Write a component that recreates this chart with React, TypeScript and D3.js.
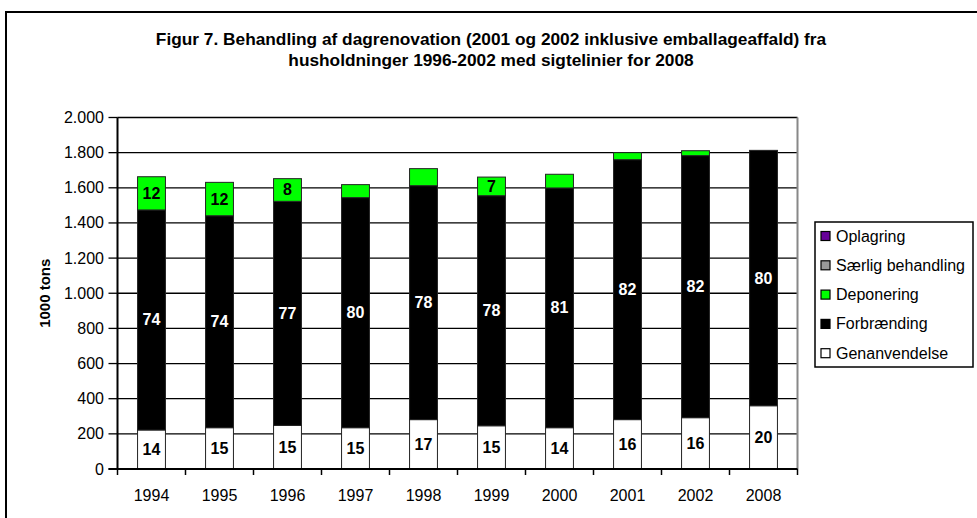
import React from "react";
import * as d3 from "d3";

// years on the x axis (2008 = target line)
const years = ["1994", "1995", "1996", "1997", "1998", "1999", "2000", "2001", "2002", "2008"];

// 1000 tons
const genanvendelse = [222, 235, 248, 235, 281, 246, 235, 281, 292, 360];
const forbraending = [1252, 1206, 1275, 1309, 1331, 1309, 1364, 1479, 1491, 1453];
const deponering = [189, 190, 129, 74, 97, 106, 78, 40, 28, 0];
const saerligBehandling = [0, 0, 0, 0, 0, 0, 0, 0, 0, 0];
const oplagring = [0, 0, 0, 0, 0, 0, 0, 0, 0, 0];

// percentage labels printed inside the segments
const pctGenanvendelse = [14, 15, 15, 15, 17, 15, 14, 16, 16, 20];
const pctForbraending = [74, 74, 77, 80, 78, 78, 81, 82, 82, 80];
const pctDeponering = [12, 12, 8, null, null, 7, null, null, null, null];

const legendNames = ["Oplagring", "Særlig behandling", "Deponering", "Forbrænding", "Genanvendelse"];
const legendColors = ["#660099", "#999999", "#00ff00", "#000000", "#ffffff"];

const titleLines = [
  "Figur 7. Behandling af dagrenovation (2001 og 2002 inklusive emballageaffald) fra",
  "husholdninger 1996-2002 med sigtelinier for 2008",
];
const yTicks = d3.range(0, 2001, 200);

const width = 977;
const height = 518;
const marginLeft = 117.5;
const plotRight = 797.5;
const plotTop = 117.5;
const plotBottom = 469;
const font = "'Liberation Sans', Arial, sans-serif";

const keys = ["gen", "forb", "dep", "saer", "opl"];
const keyColors = ["#ffffff", "#000000", "#00ff00", "#999999", "#660099"];

export default function App() {
  const rows = years.map((year, i) => ({
    year,
    gen: genanvendelse[i],
    forb: forbraending[i],
    dep: deponering[i],
    saer: saerligBehandling[i],
    opl: oplagring[i],
  }));

  const stacked = d3.stack().keys(keys)(rows as any);

  const x = d3
    .scaleBand()
    .domain(years)
    .range([marginLeft, plotRight])
    .paddingInner(0.59)
    .paddingOuter(0.295);

  const y = d3.scaleLinear().domain([0, 2000]).range([plotBottom, plotTop]);

  const fmt = d3.formatLocale({ decimal: ",", thousands: ".", grouping: [3], currency: ["", ""] }).format(",d");

  // tick marks sit between the categories
  const step = x.step();
  const boundaries = d3.range(years.length + 1).map((i) => marginLeft + i * step);

  const labelSets = [pctGenanvendelse, pctForbraending, pctDeponering];
  const labelColors = ["#000", "#fff", "#000"];

  return (
    <div style={{ position: "absolute", left: 0, top: 0 }}>
      <svg width={width} height={height} style={{ display: "block", background: "#fff" }}>
        {/* chart border */}
        <rect x={6} y={12} width={width + 20} height={height + 20} fill="#fff" stroke="#000" strokeWidth={2} />

        {titleLines.map((t, i) => (
          <text
            key={i}
            x={491}
            y={45 + i * 21}
            textAnchor="middle"
            fontFamily={font}
            fontWeight="bold"
            fontSize={17.3}
          >
            {t}
          </text>
        ))}

        {/* plot area */}
        <rect x={marginLeft} y={plotTop} width={plotRight - marginLeft} height={plotBottom - plotTop} fill="#fff" />
        {yTicks.map((t) => (
          <g key={t}>
            <line x1={marginLeft} x2={plotRight} y1={y(t)} y2={y(t)} stroke="#000" strokeWidth={1.3} />
            <line x1={marginLeft - 9} x2={marginLeft} y1={y(t)} y2={y(t)} stroke="#000" strokeWidth={1.3} />
            <text x={104} y={y(t) + 5.5} textAnchor="end" fontFamily={font} fontSize={16}>
              {fmt(t)}
            </text>
          </g>
        ))}
        <line x1={plotRight} x2={plotRight} y1={plotTop} y2={plotBottom} stroke="#888" strokeWidth={2} />

        {/* bars */}
        {stacked.map((s, si) => (
          <g key={s.key}>
            {s.map((d, i) =>
              d[1] - d[0] > 0 ? (
                <rect
                  key={i}
                  x={x(years[i])}
                  y={y(d[1])}
                  width={x.bandwidth()}
                  height={y(d[0]) - y(d[1])}
                  fill={keyColors[si]}
                  stroke="#222"
                  strokeWidth={1}
                />
              ) : null
            )}
          </g>
        ))}

        {/* segment labels */}
        {labelSets.map((set, si) =>
          set.map((v, i) => {
            if (v == null) return null;
            const d = stacked[si][i];
            return (
              <text
                key={`${si}-${i}`}
                x={(x(years[i]) as number) + x.bandwidth() / 2}
                y={y((d[0] + d[1]) / 2) + 5.5}
                textAnchor="middle"
                fontFamily={font}
                fontWeight="bold"
                fontSize={16}
                fill={labelColors[si]}
              >
                {v}
              </text>
            );
          })
        )}

        {/* axes */}
        <line x1={marginLeft} x2={marginLeft} y1={plotTop} y2={plotBottom + 1} stroke="#000" strokeWidth={2} />
        <line x1={marginLeft - 9} x2={plotRight} y1={plotBottom} y2={plotBottom} stroke="#000" strokeWidth={2} />
        {boundaries.map((b, i) => (
          <line key={i} x1={b} x2={b} y1={plotBottom} y2={plotBottom + 6} stroke="#000" strokeWidth={1.5} />
        ))}
        {years.map((yr) => (
          <text
            key={yr}
            x={(x(yr) as number) + x.bandwidth() / 2}
            y={500.5}
            textAnchor="middle"
            fontFamily={font}
            fontSize={16}
          >
            {yr}
          </text>
        ))}

        <text
          transform={`translate(50,${(plotTop + plotBottom) / 2}) rotate(-90)`}
          textAnchor="middle"
          fontFamily={font}
          fontWeight="bold"
          fontSize={15}
        >
          1000 tons
        </text>

        {/* legend */}
        <rect x={815} y={222} width={158} height={145} fill="#fff" stroke="#000" strokeWidth={1.5} />
        {legendNames.map((name, i) => (
          <g key={name} transform={`translate(821,${236 + i * 29.3})`}>
            <rect x={0} y={-4.5} width={9} height={9} fill={legendColors[i]} stroke="#000" strokeWidth={1.2} />
            <text x={15} y={5.5} fontFamily={font} fontSize={16}>
              {name}
            </text>
          </g>
        ))}
      </svg>
    </div>
  );
}
